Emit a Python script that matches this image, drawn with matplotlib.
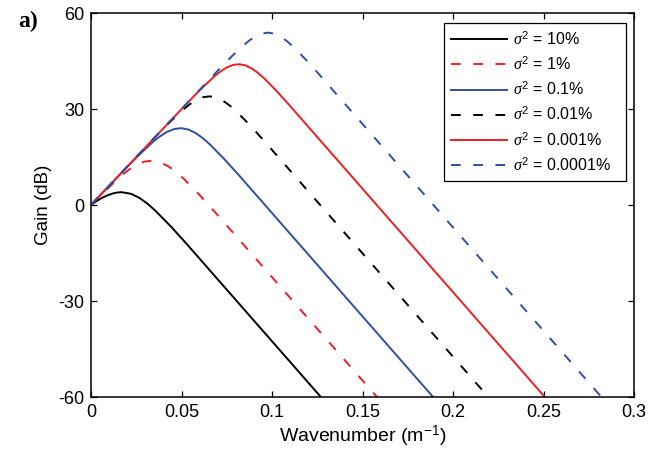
import matplotlib
matplotlib.use("Agg")
import matplotlib.pyplot as plt

plt.rcParams['font.family'] = ['Liberation Sans', 'DejaVu Sans']
plt.rcParams['mathtext.fontset'] = 'custom'
plt.rcParams['mathtext.it'] = 'Liberation Serif:italic'
plt.rcParams['mathtext.rm'] = 'Liberation Sans'
plt.rcParams['mathtext.bf'] = 'Liberation Sans:bold'
plt.rcParams['lines.scale_dashes'] = False
plt.rcParams['axes.unicode_minus'] = False

# ---- data ----
labels = [r'$\sigma^2$ = 10%', r'$\sigma^2$ = 1%', r'$\sigma^2$ = 0.1%',
          r'$\sigma^2$ = 0.01%', r'$\sigma^2$ = 0.001%', r'$\sigma^2$ = 0.0001%']

k_10 = [0.0, 0.003, 0.006, 0.009, 0.012, 0.0145, 0.017, 0.02223, 0.02668,
        0.03113, 0.03558, 0.04448, 0.05338, 0.127]
g_10 = [0.0, 1.2, 2.2, 3.0, 3.6, 3.9, 4.0, 3.48, 2.25,
        0.44, -1.78, -6.93, -12.5, -60.0]

k_1 = [0.0, 0.00801, 0.01663, 0.02094, 0.02525, 0.02956, 0.03387, 0.03818, 0.04249,
       0.0468, 0.05111, 0.05973, 0.06835, 0.158]
g_1 = [0.0, 4.54, 9.10, 11.05, 12.59, 13.57, 13.85, 13.36, 12.17,
       10.41, 8.26, 3.27, -2.12, -60.0]

k_01 = [0.0, 0.01819, 0.02613, 0.03407, 0.03804, 0.04201, 0.04598, 0.04995, 0.05392,
        0.05789, 0.06186, 0.06583, 0.07377, 0.08171, 0.189]
g_01 = [0.0, 10.86, 15.43, 19.64, 21.43, 22.85, 23.75, 24.01, 23.56,
        22.46, 20.85, 18.86, 14.27, 9.31, -60.0]

k_001 = [0.0, 0.03641, 0.04375, 0.05109, 0.05476, 0.05843, 0.0621, 0.06577, 0.06944,
         0.07311, 0.07678, 0.08045, 0.08779, 0.09513, 0.2195]
g_001 = [0.0, 21.80, 26.03, 29.91, 31.57, 32.88, 33.72, 33.95, 33.54,
         32.52, 31.03, 29.19, 24.95, 20.36, -60.0]

k_0001 = [0.0, 0.05438, 0.06128, 0.06817, 0.07162, 0.07507, 0.07851, 0.08196, 0.08541,
          0.08886, 0.0923, 0.09575, 0.10265, 0.10954, 0.2507]
g_0001 = [0.0, 32.58, 36.55, 40.21, 41.76, 43.0, 43.78, 44.0, 43.61,
          42.66, 41.25, 39.53, 35.54, 31.23, -60.0]

k_00001 = [0.0, 0.07126, 0.078, 0.08473, 0.0881, 0.09147, 0.09483, 0.0982, 0.10157,
           0.10494, 0.1083, 0.11167, 0.1184, 0.12514, 0.282]
g_00001 = [0.0, 42.71, 46.59, 50.15, 51.67, 52.88, 53.65, 53.86, 53.48,
           52.55, 51.18, 49.50, 45.60, 41.39, -60.0]

x_ticks = [0, 0.05, 0.1, 0.15, 0.2, 0.25, 0.3]
x_ticklabels = ['0', '0.05', '0.1', '0.15', '0.2', '0.25', '0.3']
y_ticks = [-60, -30, 0, 30, 60]

series = [(k_10, g_10), (k_1, g_1), (k_01, g_01), (k_001, g_001),
          (k_0001, g_0001), (k_00001, g_00001)]

BLACK = '#000000'
RED = '#f01e23'
BLUE = '#2f4ea5'
colors = [BLACK, RED, BLUE, BLACK, RED, BLUE]
dashed = [False, True, False, True, False, True]

fig = plt.figure(figsize=(6.66, 4.54), dpi=100)
ax = fig.add_axes([91 / 666, 1 - 397 / 454, 543 / 666, 384 / 454])

for (kk, gg), c, d, lab in zip(series, colors, dashed, labels):
    if d:
        ax.plot(kk, gg, color=c, lw=1.4, dashes=(7.0, 9.0), label=lab)
    else:
        ax.plot(kk, gg, color=c, lw=1.4, label=lab)

ax.set_xlim(0, 0.3)
ax.set_ylim(-60, 60)
ax.set_xticks(x_ticks)
ax.set_xticklabels(x_ticklabels)
ax.set_yticks(y_ticks)
ax.tick_params(direction='in', top=True, right=True, length=4, width=0.9,
               labelsize=13, pad=5)
for s in ax.spines.values():
    s.set_linewidth(1.1)

ax.set_xlabel(r'Wavenumber (m$^{\mathregular{-1}}$)', fontsize=14, labelpad=2)
ax.set_ylabel('Gain (dB)', fontsize=13.5, labelpad=4)

leg = ax.legend(loc='upper left', bbox_to_anchor=(0.650, 0.0, 0.335, 0.975),
                mode='expand', fontsize=11.5,
                frameon=True, fancybox=False, framealpha=1, edgecolor='black',
                handlelength=3.5, handletextpad=0.35, labelspacing=0.45,
                borderpad=0.45, borderaxespad=0)
leg.get_frame().set_linewidth(0.9)

fig.text(18 / 666, 1 - 11 / 454, 'a)', fontsize=17, fontweight='bold',
         family='Liberation Serif', va='top')

fig.savefig('out.png', dpi=100)
